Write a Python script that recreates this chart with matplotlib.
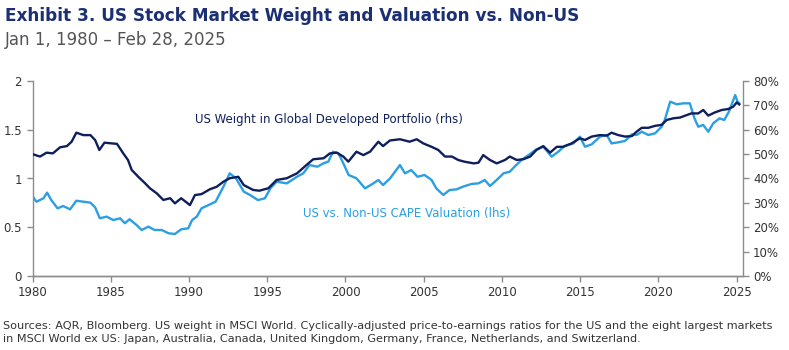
import matplotlib.pyplot as plt
from matplotlib.ticker import FuncFormatter

# US weight in MSCI World (rhs, %)
weight_years = [
    1980.0, 1980.48, 1980.9, 1981.3, 1981.76, 1982.2, 1982.5, 1982.8, 1983.25, 1983.7,
    1984.0, 1984.27, 1984.6, 1985.06, 1985.4, 1985.8, 1986.1, 1986.34, 1986.76, 1987.2,
    1987.5, 1987.94, 1988.36, 1988.8, 1989.1, 1989.5, 1990.06, 1990.38, 1990.8, 1991.34,
    1991.77, 1992.2, 1992.6, 1993.15, 1993.5, 1994.1, 1994.5, 1995.07, 1995.6, 1996.24,
    1996.9, 1997.5, 1997.94, 1998.6, 1999.0, 1999.44, 1999.86, 2000.18, 2000.7, 2001.14,
    2001.57, 2002.1, 2002.4, 2002.84, 2003.48, 2004.1, 2004.55, 2004.97, 2005.5, 2005.93,
    2006.36, 2006.8, 2007.2, 2007.6, 2008.2, 2008.5, 2008.8, 2009.23, 2009.66, 2010.19,
    2010.5, 2010.94, 2011.36, 2011.8, 2012.2, 2012.64, 2013.07, 2013.5, 2013.9, 2014.45,
    2014.98, 2015.3, 2015.73, 2016.26, 2016.7, 2017.0, 2017.43, 2017.86, 2018.3, 2018.6,
    2018.93, 2019.35, 2019.78, 2020.2, 2020.52, 2020.95, 2021.37, 2021.8, 2022.1, 2022.54,
    2022.86, 2023.18, 2023.6, 2024.04, 2024.46, 2024.78, 2025.0, 2025.16,
]
weight_pct = [
    50.0, 49.0, 50.6, 50.3, 52.8, 53.3, 55.1, 58.8, 57.8, 57.8,
    55.8, 51.7, 54.7, 54.4, 54.2, 50.3, 47.6, 43.5, 40.7, 38.0,
    36.0, 33.9, 31.2, 31.9, 29.8, 31.9, 29.1, 33.2, 33.6, 35.6,
    36.6, 38.7, 40.1, 40.7, 37.3, 35.3, 35.0, 36.0, 39.4, 40.1,
    42.1, 45.5, 47.9, 48.3, 50.3, 50.6, 49.0, 46.9, 51.0, 49.6,
    51.0, 55.1, 53.3, 55.6, 56.1, 55.1, 56.1, 54.4, 53.0, 51.7,
    49.0, 49.0, 47.6, 46.9, 46.2, 46.5, 49.6, 47.6, 46.2, 47.6,
    49.0, 47.6, 47.9, 49.0, 51.7, 53.3, 50.6, 53.0, 53.0, 54.4,
    56.5, 55.8, 57.2, 57.8, 57.6, 58.8, 57.8, 57.2, 57.4, 59.2,
    60.8, 60.8, 61.6, 62.0, 64.0, 64.7, 65.0, 66.0, 66.7, 66.7,
    68.1, 65.8, 67.1, 68.1, 68.5, 69.5, 71.2, 70.4,
]

# US vs non-US CAPE ratio (lhs)
cape_years = [
    1980.0, 1980.25, 1980.7, 1980.93, 1981.2, 1981.6, 1981.96, 1982.4, 1982.8, 1983.25,
    1983.7, 1984.0, 1984.3, 1984.74, 1985.16, 1985.6, 1985.9, 1986.2, 1986.65, 1986.97,
    1987.4, 1987.8, 1988.25, 1988.7, 1989.1, 1989.5, 1989.95, 1990.2, 1990.5, 1990.8,
    1991.25, 1991.7, 1992.2, 1992.6, 1993.0, 1993.5, 1993.9, 1994.4, 1994.85, 1995.2,
    1995.6, 1996.25, 1996.9, 1997.3, 1997.7, 1998.2, 1998.6, 1998.9, 1999.2, 1999.55,
    1999.86, 2000.2, 2000.7, 2001.25, 2001.78, 2002.1, 2002.4, 2002.84, 2003.48, 2003.8,
    2004.2, 2004.6, 2005.05, 2005.5, 2005.8, 2006.25, 2006.65, 2007.1, 2007.5, 2008.05,
    2008.5, 2008.9, 2009.23, 2009.66, 2010.1, 2010.5, 2010.8, 2011.25, 2011.7, 2012.2,
    2012.64, 2013.17, 2013.6, 2014.0, 2014.56, 2014.98, 2015.3, 2015.73, 2016.26, 2016.7,
    2017.0, 2017.43, 2017.86, 2018.3, 2018.6, 2018.93, 2019.35, 2019.78, 2020.2, 2020.4,
    2020.75, 2021.16, 2021.6, 2022.0, 2022.3, 2022.54, 2022.86, 2023.18, 2023.5, 2023.9,
    2024.2, 2024.5, 2024.9, 2025.05, 2025.16,
]
cape_ratio = [
    0.82, 0.762, 0.797, 0.855, 0.779, 0.694, 0.718, 0.684, 0.772, 0.762,
    0.752, 0.704, 0.592, 0.609, 0.574, 0.592, 0.541, 0.582, 0.523, 0.472,
    0.506, 0.472, 0.472, 0.438, 0.431, 0.479, 0.489, 0.574, 0.609, 0.694,
    0.728, 0.762, 0.916, 1.053, 1.002, 0.865, 0.831, 0.779, 0.797, 0.899,
    0.967, 0.95, 1.018, 1.053, 1.138, 1.121, 1.156, 1.173, 1.275, 1.258,
    1.156, 1.036, 1.002, 0.899, 0.95, 0.985, 0.933, 1.0, 1.138, 1.053,
    1.087, 1.018, 1.036, 0.985, 0.899, 0.831, 0.882, 0.889, 0.916, 0.944,
    0.95, 0.985, 0.923, 0.985, 1.053, 1.07, 1.121, 1.19, 1.241, 1.299,
    1.326, 1.224, 1.275, 1.333, 1.36, 1.429, 1.326, 1.35, 1.429, 1.446,
    1.36, 1.371, 1.385, 1.453, 1.446, 1.48, 1.446, 1.463, 1.531, 1.6,
    1.788, 1.761, 1.771, 1.771, 1.617, 1.531, 1.549, 1.48, 1.566, 1.617,
    1.6, 1.685, 1.856, 1.788, 1.771,
]

year_ticks = [1980, 1985, 1990, 1995, 2000, 2005, 2010, 2015, 2020, 2025]

navy = "#0f1f5c"
light = "#2b9fe2"
spine = "#8c8c8c"
text = "#333333"

plt.rcParams["font.family"] = "DejaVu Sans"

fig = plt.figure(figsize=(7.89, 3.5), dpi=100)
ax = fig.add_axes([0.0412, 0.2114, 0.9001, 0.5572])
ax2 = ax.twinx()

ax.plot(cape_years, cape_ratio, color=light, lw=1.7)
ax2.plot(weight_years, weight_pct, color=navy, lw=1.7)

ax.set_xlim(1980, 2025.38)
ax.set_ylim(0, 2)
ax2.set_ylim(0, 80)
ax.set_xticks(year_ticks)
ax.set_yticks([0, 0.5, 1, 1.5, 2])
ax.set_yticklabels(["0", "0.5", "1", "1.5", "2"])
ax2.set_yticks(range(0, 81, 10))
ax2.yaxis.set_major_formatter(FuncFormatter(lambda v, p: f"{v:.0f}%"))

for a in (ax, ax2):
    a.spines["top"].set_visible(False)
    for s in ("left", "right", "bottom"):
        a.spines[s].set_color(spine)
        a.spines[s].set_linewidth(1)
    a.tick_params(colors=spine, labelcolor=text, labelsize=8.5, length=4, width=1)
ax.spines["right"].set_visible(False)
ax2.spines["left"].set_visible(False)
ax.tick_params(axis="x", pad=3)

ax.text(1990.4, 1.6, "US Weight in Global Developed Portfolio (rhs)",
        color=navy, fontsize=8.5, va="center")
ax.text(1997.3, 0.645, "US vs. Non-US CAPE Valuation (lhs)",
        color=light, fontsize=8.5, va="center")

fig.text(0.006, 0.955, "Exhibit 3. US Stock Market Weight and Valuation vs. Non-US",
         color="#1b2f73", fontsize=12.2, fontweight="bold", va="center")
fig.text(0.006, 0.885, "Jan 1, 1980 \u2013 Feb 28, 2025",
         color="#555555", fontsize=12, va="center")
fig.text(0.004, 0.05,
         "Sources: AQR, Bloomberg. US weight in MSCI World. Cyclically-adjusted price-to-earnings ratios for the US and the eight largest markets\n"
         "in MSCI World ex US: Japan, Australia, Canada, United Kingdom, Germany, France, Netherlands, and Switzerland.",
         color=text, fontsize=8.1, va="center", linespacing=1.35)

fig.savefig("out.png", dpi=100)
